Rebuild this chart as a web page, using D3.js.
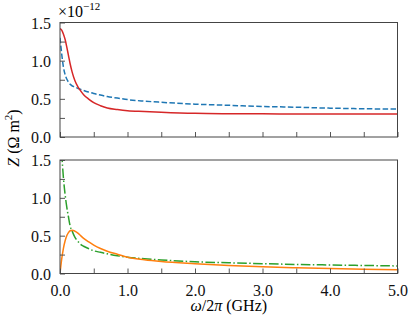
<!DOCTYPE html>
<html>
<head>
<meta charset="utf-8">
<script src="https://cdn.jsdelivr.net/npm/d3@7"></script>
</head>
<body style="margin:0">
<script>
// frequency (GHz) sample points
var freq = [0, 0.025, 0.05, 0.075, 0.1, 0.125, 0.15, 0.18, 0.22, 0.27, 0.3, 0.35, 0.42, 0.5, 0.6, 0.7, 0.85, 1.0, 1.25, 1.5, 2.0, 2.5, 3.0, 3.5, 4.0, 4.5, 5.0];

// top panel (x 1e-12)
var redTop = [1.42, 1.40, 1.35, 1.28, 1.18, 1.07, 0.96, 0.85, 0.74, 0.65, 0.61, 0.555, 0.50, 0.45, 0.41, 0.38, 0.36, 0.345, 0.335, 0.325, 0.31, 0.305, 0.303, 0.302, 0.30, 0.30, 0.30];
var blueTop = [1.30, 1.09, 0.92, 0.82, 0.76, 0.72, 0.69, 0.67, 0.655, 0.635, 0.625, 0.61, 0.59, 0.57, 0.55, 0.53, 0.51, 0.49, 0.47, 0.455, 0.43, 0.415, 0.40, 0.39, 0.378, 0.37, 0.365];

// bottom panel
var orangeBot = [0, 0.19, 0.33, 0.43, 0.50, 0.54, 0.565, 0.572, 0.56, 0.53, 0.505, 0.465, 0.42, 0.375, 0.33, 0.295, 0.255, 0.215, 0.183, 0.16, 0.13, 0.105, 0.088, 0.076, 0.066, 0.056, 0.048];
var greenBot = [null, 1.6, 1.27, 1.05, 0.88, 0.75, 0.63, 0.56, 0.48, 0.42, 0.39, 0.36, 0.33, 0.30, 0.28, 0.26, 0.235, 0.215, 0.195, 0.18, 0.155, 0.142, 0.13, 0.12, 0.113, 0.106, 0.10];

var xTicks = [0, 0.5, 1, 1.5, 2, 2.5, 3, 3.5, 4, 4.5, 5];
var xLabels = [0, 1, 2, 3, 4, 5];
var yTicks = [0, 0.25, 0.5, 0.75, 1, 1.25, 1.5];
var yLabels = [0, 0.5, 1, 1.5];

var width = 415, height = 325;
var left = 60, right = 397.5;

var svg = d3.select("body").append("svg")
    .attr("width", width)
    .attr("height", height)
    .attr("font-family", "Liberation Serif");

var x = d3.scaleLinear().domain([0, 5]).range([left, right]);

var panels = [
  { top: 22.5, bottom: 137, labels: false,
    series: [
      { vals: blueTop, color: "#1f77b4", dash: "5.5,2.4" },
      { vals: redTop, color: "#d62728", dash: null }
    ] },
  { top: 160, bottom: 273.5, labels: true,
    series: [
      { vals: greenBot, color: "#2ca02c", dash: "9.6,2.4,1.5,2.4" },
      { vals: orangeBot, color: "#ff7f0e", dash: null }
    ] }
];

function serif(sel, size) {
  return sel.style("font-family", "'Liberation Serif'")
    .style("font-size", size + "px");
}

panels.forEach(function (p, i) {
  var y = d3.scaleLinear().domain([0, 1.5]).range([p.bottom, p.top]);
  var g = svg.append("g");

  svg.append("clipPath").attr("id", "clip" + i)
    .append("rect")
    .attr("x", left).attr("y", p.top)
    .attr("width", right - left).attr("height", p.bottom - p.top);

  var line = d3.line()
    .defined(function (d) { return d[1] != null; })
    .x(function (d) { return x(d[0]); })
    .y(function (d) { return y(d[1]); })
    .curve(d3.curveMonotoneX);

  p.series.forEach(function (s) {
    g.append("path")
      .datum(freq.map(function (f, k) { return [f, s.vals[k]]; }))
      .attr("clip-path", "url(#clip" + i + ")")
      .attr("d", line)
      .style("fill", "none")
      .style("stroke", s.color)
      .style("stroke-width", 1.5)
      .style("stroke-dasharray", s.dash);
  });

  // x axis (ticks inward)
  var xAxis = d3.axisBottom(x).tickValues(xTicks).tickSizeInner(-5).tickSizeOuter(0)
    .tickFormat(function (d) { return (p.labels && xLabels.indexOf(d) >= 0) ? d3.format(".1f")(d) : ""; });
  var gx = svg.append("g").attr("transform", "translate(0," + p.bottom + ")").call(xAxis);
  gx.attr("font-family", "Liberation Serif").attr("font-size", 16);
  serif(gx.selectAll("text").attr("dy", "0").attr("y", 22).attr("fill", "#111"), 16);

  // y axis (ticks inward)
  var yAxis = d3.axisLeft(y).tickValues(yTicks).tickSizeInner(-5).tickSizeOuter(0)
    .tickFormat(function (d) { return yLabels.indexOf(d) >= 0 ? d3.format(".1f")(d) : ""; });
  var gy = svg.append("g").attr("transform", "translate(" + left + ",0)").call(yAxis);
  gy.attr("font-family", "Liberation Serif").attr("font-size", 16);
  serif(gy.selectAll("text").attr("x", -9).attr("dy", "0.35em").attr("fill", "#111"), 16);

  [gx, gy].forEach(function (a) {
    a.select(".domain").remove();
    a.selectAll("line").attr("stroke", "#555");
  });

  // frame
  svg.append("rect")
    .attr("x", left).attr("y", p.top)
    .attr("width", right - left).attr("height", p.bottom - p.top)
    .style("fill", "none")
    .style("stroke", "#444")
    .style("stroke-width", 1);
});

// offset text
var off = serif(svg.append("text").attr("x", 58).attr("y", 17), 16);
off.append("tspan").text("\u00d710");
off.append("tspan").attr("dy", -7).style("font-size", "11px").text("\u221212");

// axis labels
var xl = serif(svg.append("text")
  .attr("x", (left + right) / 2)
  .attr("y", 311)
  .attr("text-anchor", "middle"), 16);
xl.append("tspan").style("font-style", "italic").text("\u03c9");
xl.append("tspan").text("/2");
xl.append("tspan").style("font-style", "italic").text("\u03c0");
xl.append("tspan").text(" (GHz)");

var yl = serif(svg.append("text")
  .attr("transform", "translate(19,138) rotate(-90)")
  .attr("text-anchor", "middle"), 16);
yl.append("tspan").style("font-style", "italic").text("Z");
yl.append("tspan").text(" (\u03a9 m");
yl.append("tspan").attr("dy", -7).style("font-size", "11px").text("2");
yl.append("tspan").attr("dy", 7).text(")");
</script>
</body>
</html>
